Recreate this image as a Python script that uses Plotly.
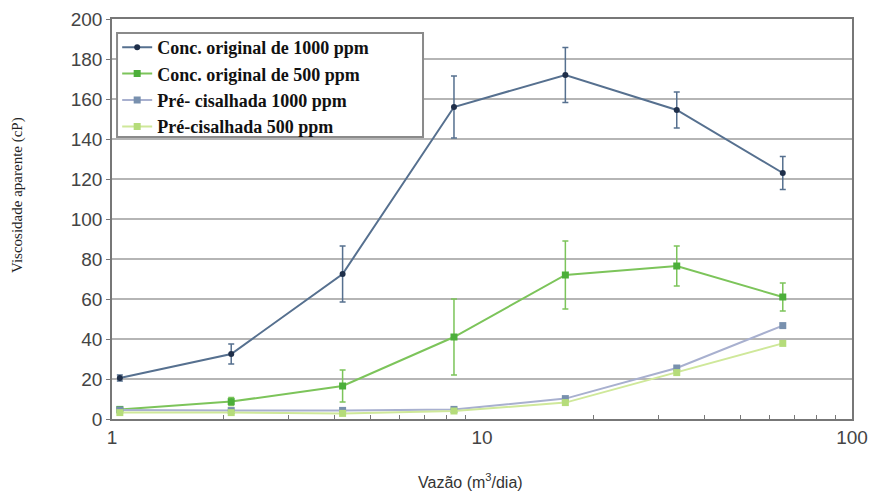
import plotly.graph_objects as go

vazao = [1.05, 2.1, 4.2, 8.4, 16.8, 33.6, 65.0]

orig_1000 = [20.5, 32.5, 72.5, 156.0, 172.0, 154.5, 123.0]
orig_1000_err = [1.5, 5.0, 14.0, 15.5, 13.7, 9.0, 8.3]

orig_500 = [4.8, 8.7, 16.5, 41.0, 72.0, 76.5, 61.0]
orig_500_err = [1.0, 2.0, 8.0, 19.0, 17.0, 10.0, 7.0]

pre_1000 = [4.5, 4.2, 4.3, 4.8, 10.2, 25.5, 46.7]
pre_500 = [3.2, 3.2, 2.8, 4.0, 8.2, 23.2, 37.8]

names = ["Conc. original de 1000 ppm", "Conc. original de 500 ppm",
         "Pré- cisalhada 1000 ppm", "Pré-cisalhada 500 ppm"]

x_ticks = [1, 10, 100]
x_minor = [2, 3, 4, 5, 6, 7, 8, 9, 20, 30, 40, 50, 60, 70, 80, 90]
y_ticks = [0, 20, 40, 60, 80, 100, 120, 140, 160, 180, 200]

fig = go.Figure()
fig.add_trace(go.Scatter(
    x=vazao, y=orig_1000, name=names[0], mode="lines+markers",
    line=dict(color="#56708f", width=2),
    marker=dict(color="#1f2f4a", size=6, symbol="circle"),
    error_y=dict(type="data", array=orig_1000_err, color="#56708f", thickness=1.5, width=3),
))
fig.add_trace(go.Scatter(
    x=vazao, y=orig_500, name=names[1], mode="lines+markers",
    line=dict(color="#7cc45a", width=2),
    marker=dict(color="#4caf3a", size=7, symbol="square"),
    error_y=dict(type="data", array=orig_500_err, color="#7cc45a", thickness=1.5, width=3),
))
fig.add_trace(go.Scatter(
    x=vazao, y=pre_1000, name=names[2], mode="lines+markers",
    line=dict(color="#a8b0cf", width=2),
    marker=dict(color="#7890ae", size=7, symbol="square"),
))
fig.add_trace(go.Scatter(
    x=vazao, y=pre_500, name=names[3], mode="lines+markers",
    line=dict(color="#cfe89a", width=2),
    marker=dict(color="#b5dc7a", size=7, symbol="square"),
))

# legend frame (plot-area fraction coordinates)
frame_x0, frame_x1 = 0.0068, 0.4203
frame_y0, frame_y1 = 0.705, 0.965

fig.update_layout(
    width=877, height=491,
    margin=dict(l=112, r=25, t=19, b=72, autoexpand=False),
    paper_bgcolor="white", plot_bgcolor="white",
    showlegend=True,
    legend=dict(
        x=0.007, y=0.975, xanchor="left", yanchor="top",
        bgcolor="rgba(0,0,0,0)", borderwidth=0,
        font=dict(family="Liberation Serif", size=18, color="#111111", weight="bold"),
        tracegroupgap=0, itemwidth=30,
    ),
    shapes=[dict(
        type="rect", xref="paper", yref="paper",
        x0=frame_x0, x1=frame_x1, y0=frame_y0, y1=frame_y1,
        fillcolor="white", line=dict(color="#8a8a8a", width=2), layer="above",
    )],
    xaxis=dict(
        type="log", range=[0, 2], automargin=False,
        tickvals=x_ticks, ticktext=[str(v) for v in x_ticks],
        tickfont=dict(family="Liberation Sans", size=19, color="#444444"),
        ticks="", showgrid=False,
        showline=True, linecolor="#777777", linewidth=1.5, mirror=True,
        minor=dict(tickvals=x_minor, ticks="inside", ticklen=4, tickcolor="#777777", showgrid=False),
    ),
    yaxis=dict(
        range=[0, 200], tickvals=y_ticks, automargin=False,
        tickfont=dict(family="Liberation Sans", size=19, color="#444444"),
        ticks="outside", ticklen=4, tickcolor="#777777",
        showgrid=True, gridcolor="#b5b5b5", gridwidth=1.5,
        showline=True, linecolor="#777777", linewidth=1.5, mirror=True,
        zeroline=False,
    ),
    annotations=[
        dict(
            text="Viscosidade aparente (cP)", textangle=-90,
            xref="paper", yref="paper", x=(18 - 112) / 740, y=(419 - 195) / 400,
            xanchor="center", yanchor="middle", showarrow=False,
            font=dict(family="Liberation Serif", size=15, color="#222222"),
        ),
        dict(
            text="Vazão (m<sup>3</sup>/dia)",
            xref="paper", yref="paper", x=(470 - 112) / 740, y=(419 - 481) / 400,
            xanchor="center", yanchor="middle", showarrow=False,
            font=dict(family="Liberation Sans", size=16, color="#333333"),
        ),
    ],
)

fig.write_html("out.html")
